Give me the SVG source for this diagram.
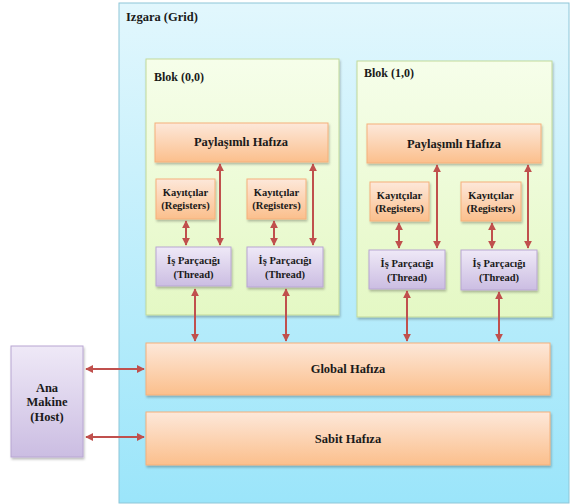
<svg xmlns="http://www.w3.org/2000/svg" width="570" height="504" viewBox="0 0 570 504">
<style>
text{font-family:"Liberation Serif","Times New Roman",serif;font-weight:bold;fill:#1a1a1a}
.c{text-anchor:middle}
.org{fill:url(#gOrg);stroke:#f5b07a;stroke-width:1}
.pur{fill:url(#gPur);stroke:#b8a6d2;stroke-width:1}
.blk{fill:url(#gBlk);stroke:#c2d99a;stroke-width:1}
.sh{filter:url(#sh)}
.ar{stroke:#c0504d;stroke-width:2;fill:none;marker-start:url(#ah);marker-end:url(#ah)}
</style>
<defs>
<linearGradient id="gGrid" x1="0" y1="0" x2="0" y2="1"><stop offset="0" stop-color="#e2f7fd"/><stop offset="1" stop-color="#9be5fa"/></linearGradient>
<linearGradient id="gBlk" x1="0" y1="0" x2="0" y2="1"><stop offset="0" stop-color="#f6feea"/><stop offset="1" stop-color="#e4f8c4"/></linearGradient>
<linearGradient id="gOrg" x1="0" y1="0" x2="0" y2="1"><stop offset="0" stop-color="#fde8da"/><stop offset="1" stop-color="#fbbf8c"/></linearGradient>
<linearGradient id="gPur" x1="0" y1="0" x2="0" y2="1"><stop offset="0" stop-color="#efe9f7"/><stop offset="1" stop-color="#cbbde2"/></linearGradient>
<filter id="sh" x="-10%" y="-10%" width="130%" height="140%"><feDropShadow dx="1" dy="2" stdDeviation="1" flood-color="#000" flood-opacity="0.25"/></filter>
<marker id="ah" viewBox="0 0 10 10" refX="9" refY="5" markerWidth="4" markerHeight="4" orient="auto-start-reverse" markerUnits="strokeWidth"><path d="M0,0 L10,5 L0,10 z" fill="#c0504d"/></marker>
</defs>
<rect width="570" height="504" fill="#ffffff"/>
<g id="grid">
<rect x="119" y="3" width="450" height="500" fill="url(#gGrid)" stroke="#8ec6d8" stroke-width="1"/>
<text x="126" y="21" font-size="12.5">Izgara (Grid)</text>
</g>
<g id="blok00">
<rect class="blk sh" x="146" y="59" width="193" height="256"/>
<text x="154" y="81" font-size="12">Blok (0,0)</text>
</g>
<g id="blok10">
<rect class="blk sh" x="357" y="61" width="195" height="256"/>
<text x="364" y="77" font-size="12">Blok (1,0)</text>
</g>
<g id="shared0"><rect class="org sh" x="155" y="123" width="173" height="39"/><text class="c" x="241" y="146" font-size="12.5">Paylaşımlı Hafıza</text></g>
<g id="shared1"><rect class="org sh" x="367" y="124" width="174" height="39"/><text class="c" x="454" y="148" font-size="12.5">Paylaşımlı Hafıza</text></g>
<g id="reg00"><rect class="org sh" x="156" y="179" width="59" height="40"/><text class="c" x="185.5" y="196" font-size="10.5">Kayıtçılar</text><text class="c" x="185.5" y="209" font-size="10.5">(Registers)</text></g>
<g id="reg01"><rect class="org sh" x="247" y="179" width="59" height="40"/><text class="c" x="276.5" y="196" font-size="10.5">Kayıtçılar</text><text class="c" x="276.5" y="209" font-size="10.5">(Registers)</text></g>
<g id="reg10"><rect class="org sh" x="370" y="182" width="59" height="39"/><text class="c" x="399.5" y="199" font-size="10.5">Kayıtçılar</text><text class="c" x="399.5" y="212" font-size="10.5">(Registers)</text></g>
<g id="reg11"><rect class="org sh" x="461" y="182" width="60" height="39"/><text class="c" x="491" y="199" font-size="10.5">Kayıtçılar</text><text class="c" x="491" y="212" font-size="10.5">(Registers)</text></g>
<g id="thr00"><rect class="pur sh" x="156" y="247" width="75" height="39"/><text class="c" x="193.5" y="264" font-size="10.5">İş Parçacığı</text><text class="c" x="193.5" y="278" font-size="10.5">(Thread)</text></g>
<g id="thr01"><rect class="pur sh" x="247" y="247" width="76" height="40"/><text class="c" x="285" y="264" font-size="10.5">İş Parçacığı</text><text class="c" x="285" y="278" font-size="10.5">(Thread)</text></g>
<g id="thr10"><rect class="pur sh" x="369" y="250" width="76" height="39"/><text class="c" x="407" y="267" font-size="10.5">İş Parçacığı</text><text class="c" x="407" y="281" font-size="10.5">(Thread)</text></g>
<g id="thr11"><rect class="pur sh" x="461" y="250" width="76" height="40"/><text class="c" x="499" y="267" font-size="10.5">İş Parçacığı</text><text class="c" x="499" y="281" font-size="10.5">(Thread)</text></g>
<g id="global"><rect class="org sh" x="146" y="343" width="404" height="52"/><text class="c" x="348" y="373" font-size="12.5">Global Hafıza</text></g>
<g id="const"><rect class="org sh" x="146" y="412" width="404" height="53"/><text class="c" x="348" y="443" font-size="12.5">Sabit Hafıza</text></g>
<g id="host"><rect class="pur sh" x="11" y="346" width="72" height="111"/><text class="c" x="47" y="392" font-size="12.5">Ana</text><text class="c" x="47" y="406" font-size="12.5">Makine</text><text class="c" x="47" y="421" font-size="12.5">(Host)</text></g>
<g id="connectors">
<line class="ar" x1="186" y1="221" x2="186" y2="245"/>
<line class="ar" x1="274" y1="221" x2="274" y2="245"/>
<line class="ar" x1="220" y1="164" x2="220" y2="245"/>
<line class="ar" x1="313" y1="164" x2="313" y2="245"/>
<line class="ar" x1="399" y1="223" x2="399" y2="248"/>
<line class="ar" x1="492" y1="223" x2="492" y2="248"/>
<line class="ar" x1="437" y1="165" x2="437" y2="248"/>
<line class="ar" x1="528" y1="165" x2="528" y2="248"/>
<line class="ar" x1="195" y1="289" x2="195" y2="341"/>
<line class="ar" x1="286" y1="289" x2="286" y2="341"/>
<line class="ar" x1="407" y1="291" x2="407" y2="341"/>
<line class="ar" x1="499" y1="292" x2="499" y2="341"/>
<line class="ar" x1="86" y1="369" x2="144" y2="369"/>
<line class="ar" x1="86" y1="437" x2="144" y2="437"/>
</g>
</svg>
